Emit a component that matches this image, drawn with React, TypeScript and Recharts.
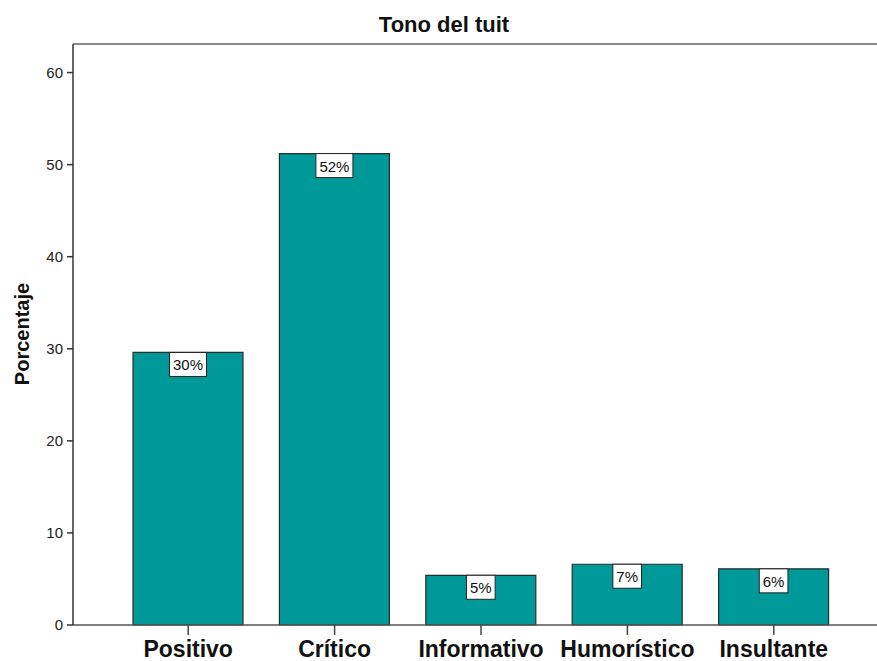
import { BarChart, Bar, XAxis, YAxis, LabelList, ReferenceLine } from "recharts"

// categorías y valores
const categories = ["Positivo", "Crítico", "Informativo", "Humorístico", "Insultante"]
const percentages = [29.6, 51.2, 5.4, 6.6, 6.1]
const valueLabels = ["30%", "52%", "5%", "7%", "6%"]
const yTicks = [0, 10, 20, 30, 40, 50, 60]

const chartData = categories.map((name, i) => ({
  name,
  value: percentages[i],
  label: valueLabels[i],
}))

const FONT = "'Liberation Sans', Arial, sans-serif"

// caja blanca con el porcentaje arriba de cada barra
const ValueBox = (props: any) => {
  const { x, y, width, index } = props
  const text = valueLabels[index]
  const w = (text.length - 1) * 0.556 * 15 + 0.889 * 15 + 7
  const cx = x + width / 2
  return (
    <g>
      <rect x={cx - w / 2} y={y} width={w} height={24} fill="#fff" stroke="#222" strokeWidth={1} />
      <text x={cx} y={y + 18} textAnchor="middle" fontSize={15} fontFamily={FONT} fill="#111">
        {text}
      </text>
    </g>
  )
}

export default function App() {
  return (
    <div style={{ position: "absolute", left: 0, top: 0, width: 877, height: 661, background: "#fff" }}>
      <div
        style={{
          position: "absolute",
          left: 0,
          width: 888,
          top: 12,
          textAlign: "center",
          fontFamily: FONT,
          fontWeight: "bold",
          fontSize: 22,
          lineHeight: "26px",
          color: "#111",
        }}
      >
        Tono del tuit
      </div>
      <BarChart width={877} height={661} data={chartData} margin={{ top: 44, right: 0, left: 0, bottom: 0 }}>
        <XAxis
          dataKey="name"
          height={36}
          padding={{ left: 42, right: 30 }}
          tickSize={10}
          tickMargin={6}
          axisLine={{ stroke: "#555", strokeWidth: 1.5 }}
          tickLine={{ stroke: "#444", strokeWidth: 1.5 }}
          tick={{ fontSize: 23, fontWeight: "bold", fontFamily: FONT, fill: "#111" }}
          interval={0}
        />
        <YAxis
          width={73}
          domain={[0, 63.1]}
          ticks={yTicks}
          tickSize={6}
          tickMargin={4}
          axisLine={{ stroke: "#333", strokeWidth: 1.5 }}
          tickLine={{ stroke: "#333", strokeWidth: 1.5 }}
          tick={{ fontSize: 15, fontFamily: FONT, fill: "#222" }}
          label={{
            content: () => (
              <text
                x={0}
                y={0}
                transform="translate(29 334) rotate(-90)"
                textAnchor="middle"
                fontSize={20}
                fontWeight="bold"
                fontFamily={FONT}
                fill="#111"
              >
                Porcentaje
              </text>
            ),
          }}
        />
        <ReferenceLine y={63.1} stroke="#888" strokeWidth={2} />
        <Bar dataKey="value" fill="#009999" stroke="#2b2b2b" strokeWidth={1.2} barSize={110} isAnimationActive={false}>
          <LabelList dataKey="label" content={ValueBox} />
        </Bar>
      </BarChart>
    </div>
  )
}
